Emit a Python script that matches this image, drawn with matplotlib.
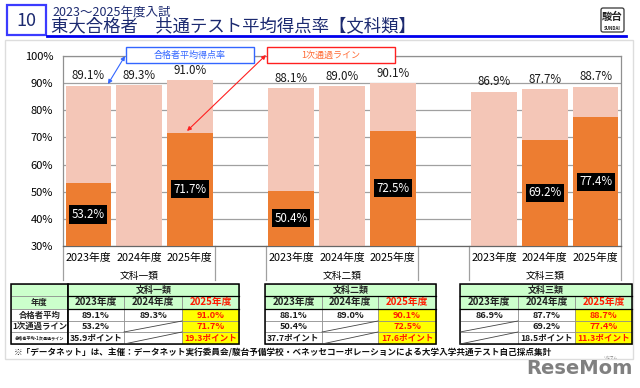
import matplotlib.pyplot as plt
from matplotlib.patches import Rectangle, FancyBboxPatch
from matplotlib.transforms import blended_transform_factory

plt.rcParams['font.family'] = ['Noto Sans CJK JP', 'DejaVu Sans']

# ---- data ----
groups = ['文科一類', '文科二類', '文科三類']
years = ['2023年度', '2024年度', '2025年度']
avg_score = [[89.1, 89.3, 91.0], [88.1, 89.0, 90.1], [86.9, 87.7, 88.7]]
first_line = [[53.2, None, 71.7], [50.4, None, 72.5], [None, 69.2, 77.4]]
gap_points = [[35.9, None, 19.3], [37.7, None, 17.6], [None, 18.5, 11.3]]
yticks = [30, 40, 50, 60, 70, 80, 90, 100]

LIGHT = '#F4C6B7'
DARK = '#ED7D31'
NAVY = '#1c2a70'
W, H = 640, 388

fig = plt.figure(figsize=(W / 100, H / 100), dpi=100)


def px_rect(x0, y0, x1, y1):
    return [x0 / W, 1 - y1 / H, (x1 - x0) / W, (y1 - y0) / H]


# ---- main bar chart ----
ax = fig.add_axes(px_rect(63, 56, 621, 246))
base = 30
xs, ticklabels = [], []
for g in range(3):
    for k in range(3):
        x = g * 4 + k
        xs.append(x)
        ticklabels.append(years[k])
        a = avg_score[g][k]
        ax.bar(x, a - base, bottom=base, width=0.9, color=LIGHT, zorder=2)
        ax.text(x, a + 1.2, f'{a:.1f}%', ha='center', va='bottom',
                fontsize=8.3, color='#1a1a1a', zorder=4)
        v = first_line[g][k]
        if v is not None:
            ax.bar(x, v - base, bottom=base, width=0.9, color=DARK, zorder=3)
            ax.text(x, (v + base) / 2, f'{v:.1f}%', ha='center', va='center',
                    fontsize=8.3, color='white', zorder=5,
                    bbox=dict(boxstyle='square,pad=0.22', fc='black', ec='none'))

ax.set_xlim(-0.5, 10.5)
ax.set_ylim(30, 100)
ax.set_yticks(yticks)
ax.set_yticklabels([f'{t}%' for t in yticks], fontsize=8)
ax.set_xticks(xs)
ax.set_xticklabels(ticklabels, fontsize=7.8)
ax.tick_params(length=0, pad=5)
ax.tick_params(axis='y', pad=7)
ax.yaxis.grid(True, color='#a0a0a0', lw=0.9, zorder=1)
ax.set_axisbelow(True)
for s in ax.spines.values():
    s.set_color('#909090')
    s.set_linewidth(0.9)
ax.spines['bottom'].set_color('#666666')

tr = blended_transform_factory(ax.transData, ax.transAxes)
for sx in [-0.5, 2.5, 3.5, 6.5, 7.5, 10.5]:
    ax.plot([sx, sx], [0, -34 / 190], color='#a0a0a0', lw=0.9,
            transform=tr, clip_on=False)
for g in range(3):
    ax.text(g * 4 + 1, -30 / 190, groups[g], transform=tr, ha='center',
            va='center', fontsize=7)

# ---- overlay in pixel coordinates ----
ov = fig.add_axes([0, 0, 1, 1])
ov.set_xlim(0, W)
ov.set_ylim(H, 0)
ov.axis('off')
ov.patch.set_visible(False)
ov.set_zorder(5)

# outer panel
ov.add_patch(Rectangle((5, 40), 628, 319, fill=False, ec='#dddddd', lw=1))

# title block
ov.add_patch(Rectangle((7, 5), 39, 30, fill=False, ec='#3b3bff', lw=1.6))
ov.text(26.5, 20.5, '10', ha='center', va='center', fontsize=13, color=NAVY)
ov.text(52, 12, '2023～2025年度入試', ha='left', va='center', fontsize=9,
        color=NAVY)
ov.text(51, 26, '東大合格者　共通テスト平均得点率【文科類】', ha='left',
        va='center', fontsize=12.5, color=NAVY)
ov.plot([47, 626], [36, 36], color='#0000ee', lw=2)

# SUNDAI logo
ov.add_patch(FancyBboxPatch((601, 8), 23, 24, boxstyle='round,pad=0,rounding_size=2',
                            fc='white', ec='#333333', lw=0.9))
ov.text(612.5, 17, '駿台', ha='center', va='center', fontsize=7.5,
        fontweight='bold', color='#222222')
ov.text(612.5, 28, 'SUNDAI', ha='center', va='center', fontsize=3.2,
        fontweight='bold', color='#222222')

# callouts
ov.add_patch(Rectangle((126, 47), 128, 16, fc='white', ec='#3366ff', lw=1))
ov.text(190, 55, '合格者平均得点率', ha='center', va='center', fontsize=6.5,
        color='#3366ff')
ov.annotate('', xy=(108, 84), xytext=(125, 56),
            arrowprops=dict(arrowstyle='<|-|>', color='#3366ff', lw=0.8,
                            mutation_scale=6, shrinkA=0, shrinkB=0))
ov.add_patch(Rectangle((267, 47), 128, 16, fc='white', ec='#ff2020', lw=1))
ov.text(331, 55, '1次通過ライン', ha='center', va='center', fontsize=6.5,
        color='#ff6a33')
ov.annotate('', xy=(187, 131), xytext=(266, 55),
            arrowprops=dict(arrowstyle='<|-|>', color='#ff2020', lw=0.8,
                            mutation_scale=6, shrinkA=0, shrinkB=0))

# ---- tables ----
row_y = [284, 296, 309, 321, 332, 344]
table_x = [[68, 124, 182, 239], [265, 322, 378, 436], [460, 518, 575, 632]]
GREEN = '#ccffcc'
YELLOW = '#ffff00'
RED = '#ff1a00'


def cell(x0, x1, y0, y1, fc):
    ov.add_patch(Rectangle((x0, y0), x1 - x0, y1 - y0, fc=fc,
                           ec='#888888', lw=0.5))


# label column of first table
lx0, lx1 = 11, 68
row_labels = ['', '年度', '合格者平均', '1次通過ライン', '合格者平均-1次通過ライン']
for r in range(5):
    fc = GREEN if r < 2 else 'white'
    cell(lx0, lx1, row_y[r], row_y[r + 1], fc)
    fs = 6 if r < 4 else 3
    ov.text((lx0 + lx1) / 2, (row_y[r] + row_y[r + 1]) / 2, row_labels[r],
            ha='center', va='center', fontsize=fs, fontweight='bold',
            color='#222222')
ov.add_patch(Rectangle((lx0, row_y[0]), lx1 - lx0, row_y[-1] - row_y[0],
                       fill=False, ec='black', lw=1.1))

for g in range(3):
    xe = table_x[g]
    cell(xe[0], xe[-1], row_y[0], row_y[1], GREEN)
    ov.text((xe[0] + xe[-1]) / 2, (row_y[0] + row_y[1]) / 2, groups[g],
            ha='center', va='center', fontsize=6.5, fontweight='bold',
            color='#222222')
    for k in range(3):
        x0, x1 = xe[k], xe[k + 1]
        cx = (x0 + x1) / 2
        cell(x0, x1, row_y[1], row_y[2], GREEN)
        ov.text(cx, (row_y[1] + row_y[2]) / 2, years[k], ha='center',
                va='center', fontsize=7, fontweight='bold',
                color=RED if k == 2 else '#222222')
        vals = [avg_score[g][k], first_line[g][k], gap_points[g][k]]
        for r, v in enumerate(vals):
            y0, y1 = row_y[r + 2], row_y[r + 3]
            cell(x0, x1, y0, y1, YELLOW if k == 2 else 'white')
            if v is None:
                ov.plot([x0, x1], [y1, y0], color='#444444', lw=0.6)
                continue
            txt = f'{v:.1f}ポイント' if r == 2 else f'{v:.1f}%'
            ov.text(cx, (y0 + y1) / 2, txt, ha='center', va='center',
                    fontsize=6.6 if r < 2 else 6.2, fontweight='bold',
                    color=RED if k == 2 else '#1a1a1a')
    for yy in row_y[1:3]:
        ov.plot([xe[0], xe[-1]], [yy, yy], color='black', lw=0.9)
    ov.add_patch(Rectangle((xe[0], row_y[0]), xe[-1] - xe[0],
                           row_y[-1] - row_y[0], fill=False, ec='black', lw=1.1))

# footnote
ov.text(14, 353, '※「データネット」は、主催：データネット実行委員会/駿台予備学校・'
        'ベネッセコーポレーションによる大学入学共通テスト自己採点集計',
        ha='left', va='center', fontsize=6.2, fontweight='bold', color='#111111')

# watermark
ov.text(579, 369, 'ReseMom', ha='center', va='center', fontsize=14,
        fontweight='bold', color='#808080', family='DejaVu Sans')
ov.text(610, 357.5, 'リセマム', ha='center', va='center', fontsize=2.5,
        color='#808080')

fig.savefig('out.png', dpi=100)
